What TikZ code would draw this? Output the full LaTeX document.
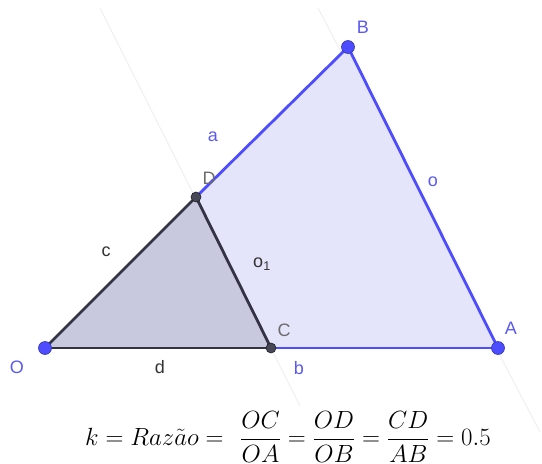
\documentclass[tikz,border=0pt]{standalone}
\usepackage{fontspec}
\newfontfamily\labfont{Liberation Sans}
\begin{document}
\begin{tikzpicture}[x=1pt,y=-1pt,
  ptblue/.style={circle,fill=ggblue,draw=ggblue!70!black,line width=0.6pt,inner sep=0pt,minimum size=13pt},
  ptgray/.style={circle,fill=ggdark!90,draw=ggdark!60!black,line width=0.6pt,inner sep=0pt,minimum size=10pt},
  lab/.style={font=\labfont\fontsize{18}{20}\selectfont,inner sep=0pt},
  bluelab/.style={lab,text=gglab},
  graylab/.style={lab,text=gray!85!black},
  darklab/.style={lab,text=black!80},
  blueedge/.style={draw=ggblue,line width=2.8pt},
  darkedge/.style={draw=ggdark,line width=2.8pt},
  faint/.style={draw=gray!12,line width=1pt}]
\definecolor{ggblue}{HTML}{4D4DFF}
\definecolor{gglab}{HTML}{5A5AF0}
\definecolor{ggdark}{HTML}{333344}
\definecolor{bigfill}{HTML}{E4E4FA}
\definecolor{smallfill}{HTML}{C8C8DE}
\useasboundingbox (0,0) rectangle (542,464);
\fill[white] (0,0) rectangle (542,464);
\coordinate (O) at (45,348);
\coordinate (A) at (498,348);
\coordinate (B) at (348,47);
\coordinate (C) at (271,348);
\coordinate (D) at (196,197);
% faint extended lines
\coordinate (cdtop) at (100,8);
\coordinate (cdbot) at (300,406);
\coordinate (abtop) at (318,8);
\coordinate (abbot) at (540,432);
\draw[faint] (cdtop) -- (cdbot);
\draw[faint] (abtop) -- (abbot);
% fills
\fill[bigfill] (O) -- (A) -- (B) -- cycle;
\fill[smallfill] (O) -- (C) -- (D) -- cycle;
% edges
\draw[blueedge] (D) -- (B);
\draw[blueedge] (C) -- (A);
\draw[blueedge] (A) -- (B);
\draw[darkedge] (O) -- (D);
\draw[darkedge] (O) -- (C);
\draw[darkedge] (C) -- (D);
% points
\node[ptblue] (pO) at (O) {};
\node[ptblue] (pA) at (A) {};
\node[ptblue] (pB) at (B) {};
\node[ptgray] (pC) at (C) {};
\node[ptgray] (pD) at (D) {};
% point labels
\node[bluelab] (lB) at (363,27) {B};
\node[bluelab] (lA) at (511,328) {A};
\node[bluelab] (lO) at (17,367) {O};
\node[graylab] (lD) at (209,178) {D};
\node[graylab] (lC) at (284,330) {C};
% segment labels
\node[bluelab] (la) at (213,137) {a};
\node[bluelab] (lo) at (433,182) {o};
\node[bluelab] (lb) at (299,368) {b};
\node[darklab] (lc) at (106,252) {c};
\node[darklab] (ld) at (160,367) {d};
\node[darklab] (lo1) at (262,264) {o\textsubscript{1}};
% formula
\node[inner sep=0pt] (formula) at (288,437) {\fontsize{31.5}{36}\selectfont$\displaystyle k = Raz\tilde{a}o = \ \frac{OC}{OA} = \frac{OD}{OB} = \frac{CD}{AB} = 0.5$};
\end{tikzpicture}
\end{document}
